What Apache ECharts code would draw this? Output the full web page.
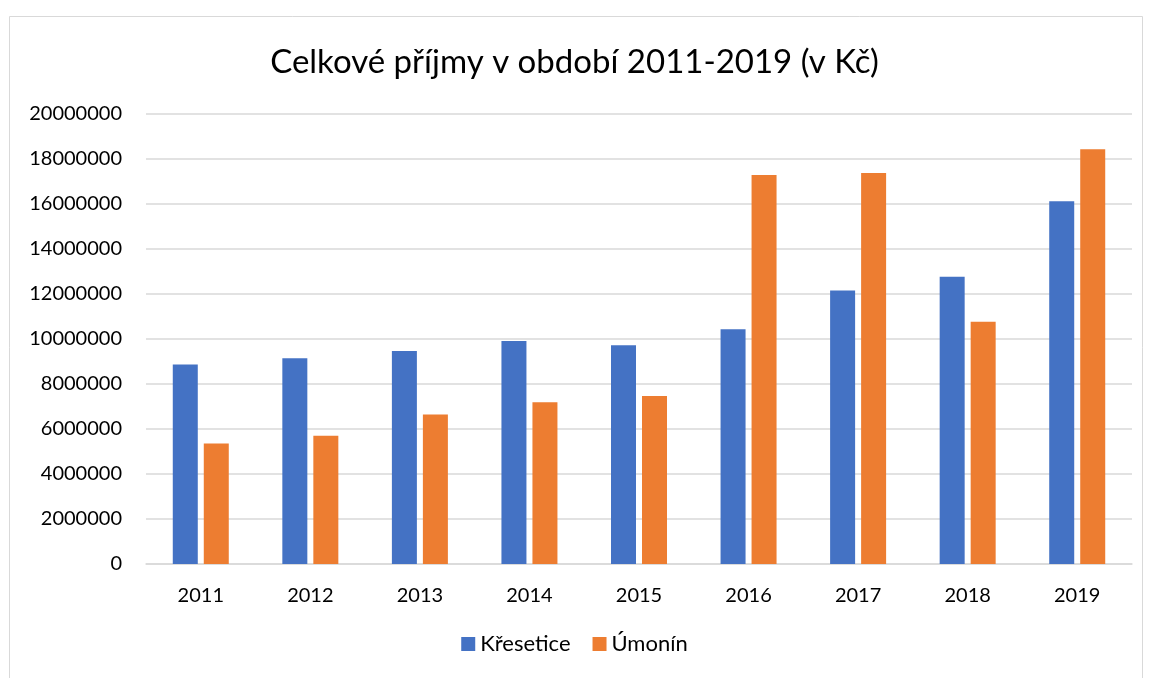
<!DOCTYPE html>
<html>
<head>
<meta charset="utf-8">
<script src="https://cdn.jsdelivr.net/npm/echarts@6/dist/echarts.min.js"></script>
<style>html,body{margin:0;padding:0;background:#fff;}#c{width:1149px;height:678px;}</style>
</head>
<body>
<div id="c"></div>
<script>
const categories = ['2011','2012','2013','2014','2015','2016','2017','2018','2019'];
const kresetice = [8870000, 9140000, 9470000, 9910000, 9720000, 10430000, 12160000, 12770000, 16120000];
const umonin = [5360000, 5700000, 6640000, 7190000, 7470000, 17290000, 17380000, 10770000, 18430000];
const seriesNames = ['Křesetice', 'Úmonín'];
const titleText = 'Celkové příjmy v období 2011-2019 (v Kč)';

const font = 'Lato, "Open Sans", sans-serif';
const chart = echarts.init(document.getElementById('c'));
chart.setOption({
  animation: false,
  backgroundColor: '#fff',
  graphic: [{
    type: 'rect', silent: true, z: -1,
    shape: { x: 9.5, y: 16.5, width: 1133, height: 700 },
    style: { fill: 'none', stroke: '#d9d9d9', lineWidth: 1 }
  }],
  title: {
    text: titleText, left: 'center', top: 41,
    textStyle: { fontFamily: font, fontSize: 33, fontWeight: 'normal', color: '#000' }
  },
  legend: {
    data: seriesNames, bottom: 18, left: 'center',
    itemWidth: 14, itemHeight: 14, itemGap: 22,
    icon: 'rect',
    textStyle: { fontFamily: font, fontSize: 22, color: '#000', padding: [0, 0, 0, 0] }
  },
  grid: { left: 146, right: 17, top: 114, bottom: 114 },
  xAxis: {
    type: 'category', data: categories,
    axisLine: { lineStyle: { color: '#d9d9d9', width: 1.5 } },
    axisTick: { show: false },
    axisLabel: { fontFamily: font, fontSize: 20, color: '#000', margin: 22 }
  },
  yAxis: {
    type: 'value', min: 0, max: 20000000, interval: 2000000,
    axisLine: { show: false }, axisTick: { show: false },
    splitLine: { lineStyle: { color: '#d9d9d9', width: 1.5 } },
    axisLabel: { fontFamily: font, fontSize: 20, color: '#000', margin: 24,
      formatter: function (v) { return String(v); } }
  },
  series: [
    { name: seriesNames[0], type: 'bar', data: kresetice, barWidth: 25, barGap: '24%',
      itemStyle: { color: '#4472C4' } },
    { name: seriesNames[1], type: 'bar', data: umonin, barWidth: 25,
      itemStyle: { color: '#ED7D31' } }
  ]
});
</script>
</body>
</html>
